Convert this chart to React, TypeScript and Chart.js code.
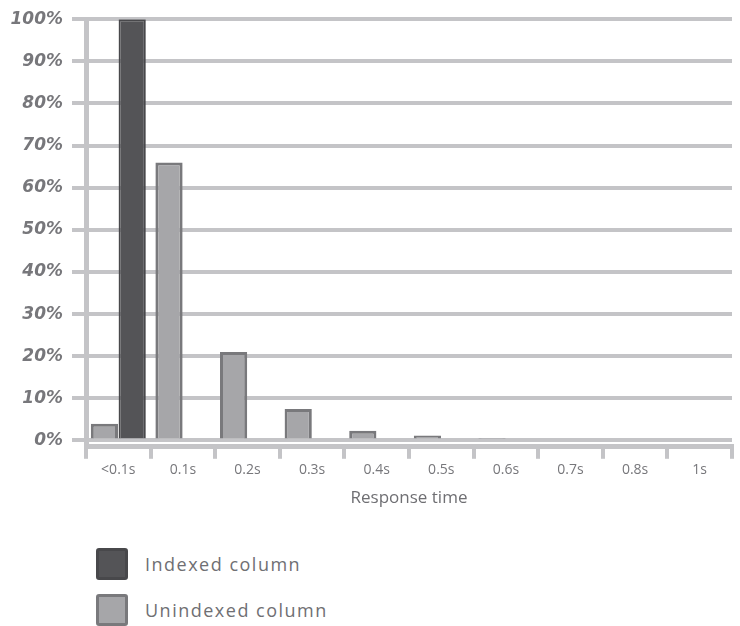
import React, { useEffect, useRef } from "react";
import { Chart, registerables } from "chart.js";

Chart.register(...registerables);

const categories = ["<0.1s", "0.1s", "0.2s", "0.3s", "0.4s", "0.5s", "0.6s", "0.7s", "0.8s", "1s"];
const indexedValues = [100, 0, 0, 0, 0, 0, 0, 0, 0, 0];
const unindexedValues = [4, 66, 21, 7.5, 2.3, 1.2, 0.6, 0, 0, 0];
const yTickValues = [0, 10, 20, 30, 40, 50, 60, 70, 80, 90, 100];
const seriesNames = ["Indexed column", "Unindexed column"];
const xTitle = "Response time";

const INDEXED_FILL = "#545457";
const INDEXED_BORDER = "#48484b";
const UNINDEXED_FILL = "#a6a6a9";
const UNINDEXED_BORDER = "#79797c";
const GRID = "#c4c4c7";
const TEXT = "#77777b";

export default function App() {
  const canvasRef = useRef<HTMLCanvasElement | null>(null);

  useEffect(() => {
    if (!canvasRef.current) return;
    const chart = new Chart(canvasRef.current, {
      type: "bar",
      data: {
        labels: categories,
        datasets: [
          {
            label: seriesNames[1],
            data: unindexedValues,
            backgroundColor: UNINDEXED_FILL,
            borderColor: UNINDEXED_BORDER,
            borderWidth: 3,
            categoryPercentage: 0.86,
            barPercentage: 0.98,
          },
          {
            label: seriesNames[0],
            data: indexedValues,
            backgroundColor: INDEXED_FILL,
            borderColor: INDEXED_BORDER,
            borderWidth: 2,
            categoryPercentage: 0.86,
            barPercentage: 0.98,
          },
        ],
      },
      options: {
        animation: false,
        responsive: false,
        maintainAspectRatio: false,
        layout: { padding: { top: 13, right: 8, bottom: 18, left: 0 } },
        plugins: {
          legend: { display: false },
          tooltip: { enabled: false },
        },
        scales: {
          x: {
            grid: {
              drawOnChartArea: false,
              drawTicks: true,
              tickLength: 12,
              color: GRID,
              lineWidth: 4,
            },
            border: { display: true, color: GRID, width: 5 },
            ticks: {
              color: TEXT,
              padding: 3,
              font: { family: "'Open Sans', sans-serif", size: 14 },
            },
            title: {
              display: true,
              text: xTitle,
              color: "#6f6f73",
              padding: { top: 6, bottom: 4 },
              font: { family: "'Open Sans', sans-serif", size: 17 },
            },
          },
          y: {
            min: -1.5,
            max: 100,
            afterBuildTicks: (scale: any) => {
              scale.ticks = yTickValues.map((v) => ({ value: v }));
            },
            afterFit: (scale: any) => {
              scale.width = 86;
            },
            grid: {
              color: GRID,
              lineWidth: 4,
              tickLength: 14,
            },
            border: { display: true, color: GRID, width: 5 },
            ticks: {
              color: TEXT,
              padding: 9,
              font: { family: "'DejaVu Sans', sans-serif", size: 17, weight: "bold", style: "italic" },
              callback: (v: any) => v + "%",
            },
          },
        },
      },
    });
    return () => chart.destroy();
  }, []);

  const legendItems = [
    { name: seriesNames[0], fill: INDEXED_FILL, border: INDEXED_BORDER },
    { name: seriesNames[1], fill: UNINDEXED_FILL, border: UNINDEXED_BORDER },
  ];

  return (
    <div style={{ position: "absolute", left: 0, top: 0, width: 740, height: 626, background: "#fff", overflow: "hidden" }}>
      <canvas ref={canvasRef} width={740} height={530} style={{ position: "absolute", left: 0, top: 0, width: 740, height: 530 }} />
      {legendItems.map((it, i) => (
        <div
          key={it.name}
          style={{ position: "absolute", left: 96, top: 549 + i * 46, height: 30, display: "flex", alignItems: "center" }}
        >
          <div
            style={{
              width: 26,
              height: 26,
              background: it.fill,
              border: `3px solid ${it.border}`,
              borderRadius: 3,
              boxSizing: "content-box",
            }}
          />
          <span
            style={{
              marginLeft: 17,
              fontFamily: "'Open Sans', sans-serif",
              fontSize: 18,
              letterSpacing: 1.5,
              color: "#6f6f73",
            }}
          >
            {it.name}
          </span>
        </div>
      ))}
    </div>
  );
}
